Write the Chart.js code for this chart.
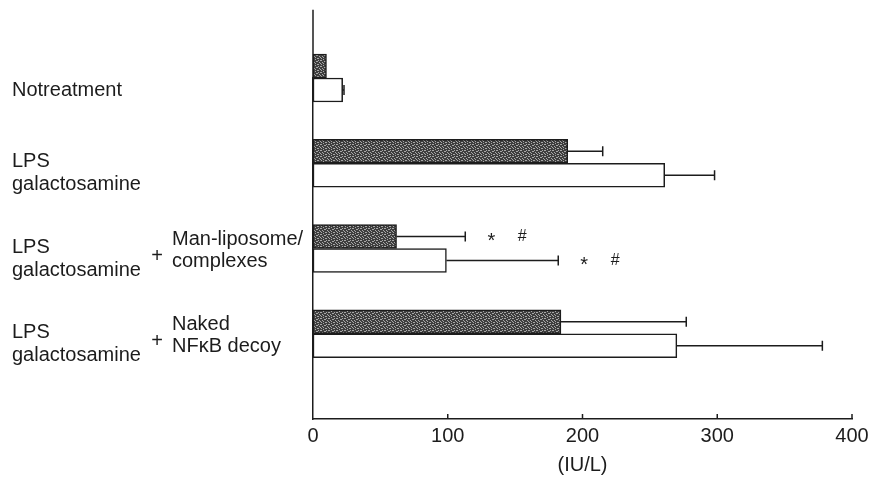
<!DOCTYPE html>
<html lang="en">
<head>
    <meta charset="UTF-8">
    <title>Serum transaminase levels</title>
    <script src="https://cdn.jsdelivr.net/npm/chart.js"></script>
    <style>
        body {
            margin: 0;
            background: #fff;
        }
        #liverChart {
            display: block;
        }
    </style>
</head>
<body>
    <canvas id="liverChart" width="876" height="480"></canvas>

    <script>
        // groups, top to bottom (last slot is an empty spacer under the last group)
        const groupKeys = ["none", "lps", "lpsMan", "lpsNaked", ""];
        const leftLabels = [["Notreatment"], ["LPS", "galactosamine"], ["LPS", "galactosamine"], ["LPS", "galactosamine"]];
        const rightLabels = [[], [], ["Man-liposome/", "complexes"], ["Naked", "NFκB decoy"]];

        // dark bars and white bars (IU/L), with SD
        const darkValues = [10, 189, 62, 184];
        const darkErrors = [0, 26, 51, 93];
        const whiteValues = [22, 261, 99, 270];
        const whiteErrors = [1, 37, 83, 108];

        // significance marks written after the bars
        const darkMarks = ["", "", "*  #", ""];
        const whiteMarks = ["", "", "*  #", ""];

        const xTicks = [0, 100, 200, 300, 400];

        const ink = "#1c1c1c";
        const fontFamily = "'Liberation Sans', Arial, sans-serif";
        const labelFont = "20px " + fontFamily;

        function speckle() {
            const c = document.createElement("canvas");
            c.width = 8;
            c.height = 6;
            const g = c.getContext("2d");
            g.fillStyle = "#3e3e3e";
            g.fillRect(0, 0, 8, 6);
            g.fillStyle = "#a8a8a8";
            const dots = [[0, 0], [1, 0], [4, 1], [5, 1], [2, 2], [7, 2], [0, 3], [5, 4], [6, 4], [3, 5], [1, 4], [6, 0], [3, 3]];
            dots.forEach(([x, y]) => g.fillRect(x, y, 1, 1));
            return g.createPattern(c, "repeat");
        }

        const extras = {
            id: "extras",
            afterDatasetsDraw(chart) {
                const ctx = chart.ctx;
                const xs = chart.scales.x;
                const ys = chart.scales.y;
                const area = chart.chartArea;
                ctx.save();
                ctx.strokeStyle = ink;
                ctx.fillStyle = ink;
                ctx.lineWidth = 1.5;

                // y axis goes on above the first group
                const step = ys.getPixelForValue(1) - ys.getPixelForValue(0);
                ctx.beginPath();
                ctx.moveTo(area.left, area.top);
                ctx.lineTo(area.left, area.top - step * 0.8);
                ctx.stroke();

                // inward x ticks
                xTicks.slice(1).forEach(v => {
                    const px = xs.getPixelForValue(v);
                    ctx.beginPath();
                    ctx.moveTo(px, area.bottom);
                    ctx.lineTo(px, area.bottom - 5);
                    ctx.stroke();
                });

                // error bars, right side only
                const errs = [darkErrors, whiteErrors];
                const vals = [darkValues, whiteValues];
                const marks = [darkMarks, whiteMarks];
                chart.data.datasets.forEach((ds, d) => {
                    const meta = chart.getDatasetMeta(d);
                    meta.data.forEach((bar, i) => {
                        if (i >= vals[d].length) return;
                        const end = xs.getPixelForValue(vals[d][i] + errs[d][i]);
                        if (errs[d][i] > 0) {
                            ctx.beginPath();
                            ctx.moveTo(bar.x, bar.y);
                            ctx.lineTo(end, bar.y);
                            ctx.moveTo(end, bar.y - 5);
                            ctx.lineTo(end, bar.y + 5);
                            ctx.stroke();
                        }
                        const m = marks[d][i];
                        if (m) {
                            const parts = m.split("  ");
                            ctx.font = "20px " + fontFamily;
                            ctx.textAlign = "center";
                            ctx.textBaseline = "middle";
                            ctx.fillText(parts[0], end + 26, bar.y + 5);
                            ctx.font = "16px " + fontFamily;
                            ctx.fillText(parts[1], end + 57, bar.y);
                        }
                    });
                });

                // group labels
                ctx.font = labelFont;
                ctx.textAlign = "left";
                ctx.textBaseline = "alphabetic";
                leftLabels.forEach((lines, i) => {
                    const cy = ys.getPixelForValue(i);
                    if (lines.length === 1) {
                        ctx.fillText(lines[0], 12, cy + 18);
                    } else {
                        ctx.fillText(lines[0], 12, cy + 4);
                        ctx.fillText(lines[1], 12, cy + 27);
                    }
                    const right = rightLabels[i];
                    if (right.length) {
                        ctx.textAlign = "center";
                        ctx.fillText("+", 157, cy + 13);
                        ctx.textAlign = "left";
                        ctx.fillText(right[0], 172, cy - 4);
                        ctx.fillText(right[1], 172, cy + 18);
                    }
                });
                ctx.restore();
            }
        };

        new Chart(document.getElementById("liverChart"), {
            type: "bar",
            data: {
                labels: groupKeys,
                datasets: [
                    {
                        label: "dark",
                        data: darkValues,
                        backgroundColor: speckle(),
                        borderColor: ink,
                        borderWidth: 1.5,
                        borderSkipped: false,
                        barThickness: 24,
                        clip: false
                    },
                    {
                        label: "white",
                        data: whiteValues,
                        backgroundColor: "#ffffff",
                        borderColor: ink,
                        borderWidth: 1.5,
                        borderSkipped: false,
                        barThickness: 24,
                        clip: false
                    }
                ]
            },
            options: {
                indexAxis: "y",
                responsive: false,
                animation: false,
                layout: { padding: { top: 78, right: 24, left: 0, bottom: 0 } },
                plugins: {
                    legend: { display: false },
                    tooltip: { enabled: false }
                },
                scales: {
                    x: {
                        type: "linear",
                        min: 0,
                        max: 400,
                        afterFit: s => { s.height = 61; },
                        afterBuildTicks: s => { s.ticks = xTicks.map(v => ({ value: v })); },
                        grid: { display: false, drawTicks: false, tickLength: 0 },
                        border: { display: true, color: ink, width: 1.5 },
                        ticks: {
                            color: ink,
                            padding: 5,
                            font: { family: fontFamily, size: 20 }
                        },
                        title: {
                            display: true,
                            text: "(IU/L)",
                            color: ink,
                            font: { family: fontFamily, size: 20 },
                            padding: { top: 0, bottom: 3 }
                        }
                    },
                    y: {
                        offset: false,
                        afterFit: s => { s.width = 313; },
                        grid: { display: false },
                        border: { display: true, color: ink, width: 1.5 },
                        ticks: { display: false }
                    }
                }
            },
            plugins: [extras]
        });
    </script>
</body>
</html>
